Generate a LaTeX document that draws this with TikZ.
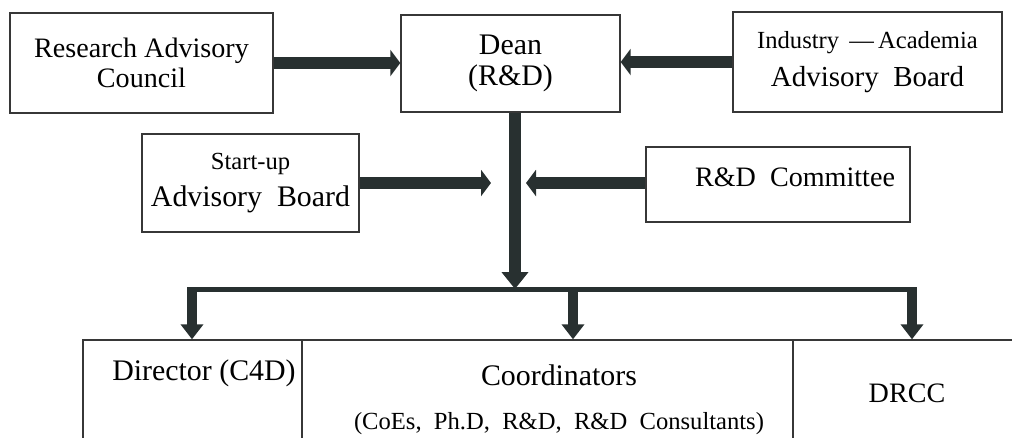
\documentclass[tikz,border=0pt]{standalone}
\usepackage{fontspec}
\setmainfont{Liberation Serif}
\usetikzlibrary{arrows.meta}
\definecolor{arrowc}{RGB}{40,48,48}
\definecolor{linec}{RGB}{55,55,55}
\newcommand{\fsz}[2]{\fontsize{#1}{#2}\selectfont}
\tikzset{
  box/.style={draw=linec, line width=0.8pt, align=center, inner sep=0pt},
  fat/.style={draw=arrowc, line width=0.24cm, -{Triangle[length=0.2cm,width=0.52cm]}},
  trunk/.style={draw=arrowc, line width=0.24cm, -{Triangle[length=0.34cm,width=0.52cm]}},
  bar/.style={draw=arrowc, line width=0.1cm},
  drop/.style={draw=arrowc, line width=0.2cm, -{Triangle[length=0.3cm,width=0.44cm]}},
}
\begin{document}
\begin{tikzpicture}[x=0.02cm, y=-0.02cm]
		\useasboundingbox (0,0) rectangle (1012,437);
		\clip (0,0) rectangle (1012,437);
		% top row
		\node[box, minimum width=5.26cm, minimum height=2cm, font=\fsz{16}{17}] (rac) at (141.5,63)
		  {Research Advisory\\ Council};
		\node[box, minimum width=4.38cm, minimum height=1.94cm, font=\fsz{17}{18}] (dean) at (510.5,63.5)
		  {Dean\\ (R\&D)};
		\node[box, minimum width=5.38cm, minimum height=2cm] (iaab) at (867.5,62)
		  {\fsz{14}{19}Industry \,---\,Academia\\[6pt] \fsz{16.5}{19}Advisory\ \ Board};
		% middle row
		\node[box, minimum width=4.34cm, minimum height=1.96cm] (sab) at (250.5,183)
		  {\fsz{14}{19}Start-up\\[5pt] \fsz{17}{19}Advisory\ \ Board};
		\node[box, minimum width=5.28cm, minimum height=1.5cm] (rdc) at (778,184.5) {};
		\node (rdct) at (795,177) {\fsz{16}{18}R\&D\ \ Committee};
		% bottom row
		\node[box, minimum width=4.38cm, minimum height=2.8cm] (dir) at (192.5,410) {};
		\node[box, minimum width=9.82cm, minimum height=2.8cm] (coord) at (547.5,410) {};
		\node[box, minimum width=4.74cm, minimum height=2.8cm] (drcc) at (911.5,410) {};
		\node (dirt) at (204,373) {\fsz{17}{18}Director (C4D)};
		\node (coordt) at (559,375) {\fsz{17}{18}Coordinators};
		\node (coords) at (559,424) {\fsz{14}{16}(CoEs,\ \ Ph.D,\ \ R\&D,\ \ R\&D\ \ Consultants)};
		\node (drcct) at (907,393) {\fsz{16}{18}DRCC};

		\coordinate (hub) at (515,289);
		\coordinate (inL) at (491,183);
		\coordinate (inR) at (526,183);
		\coordinate (b1) at (192,289);
		\coordinate (b2) at (573,289);
		\coordinate (b3) at (912,289);

		\draw[fat] (rac.east) -- (dean.west |- rac.east);
		\draw[fat] (iaab.west) -- (dean.east |- iaab.west);
		\draw[trunk] (dean.south -| hub) -- (hub);
		\draw[fat] (sab.east) -- (inL);
		\draw[fat] (rdc.west |- inR) -- (inR);
		\draw[bar] ([xshift=-0.1cm]b1) -- ([xshift=0.1cm]b3);
		\draw[drop] (b1) -- (b1 |- dir.north);
		\draw[drop] (b2) -- (b2 |- coord.north);
		\draw[drop] (b3) -- (b3 |- drcc.north);
		\end{tikzpicture}
\end{document}
